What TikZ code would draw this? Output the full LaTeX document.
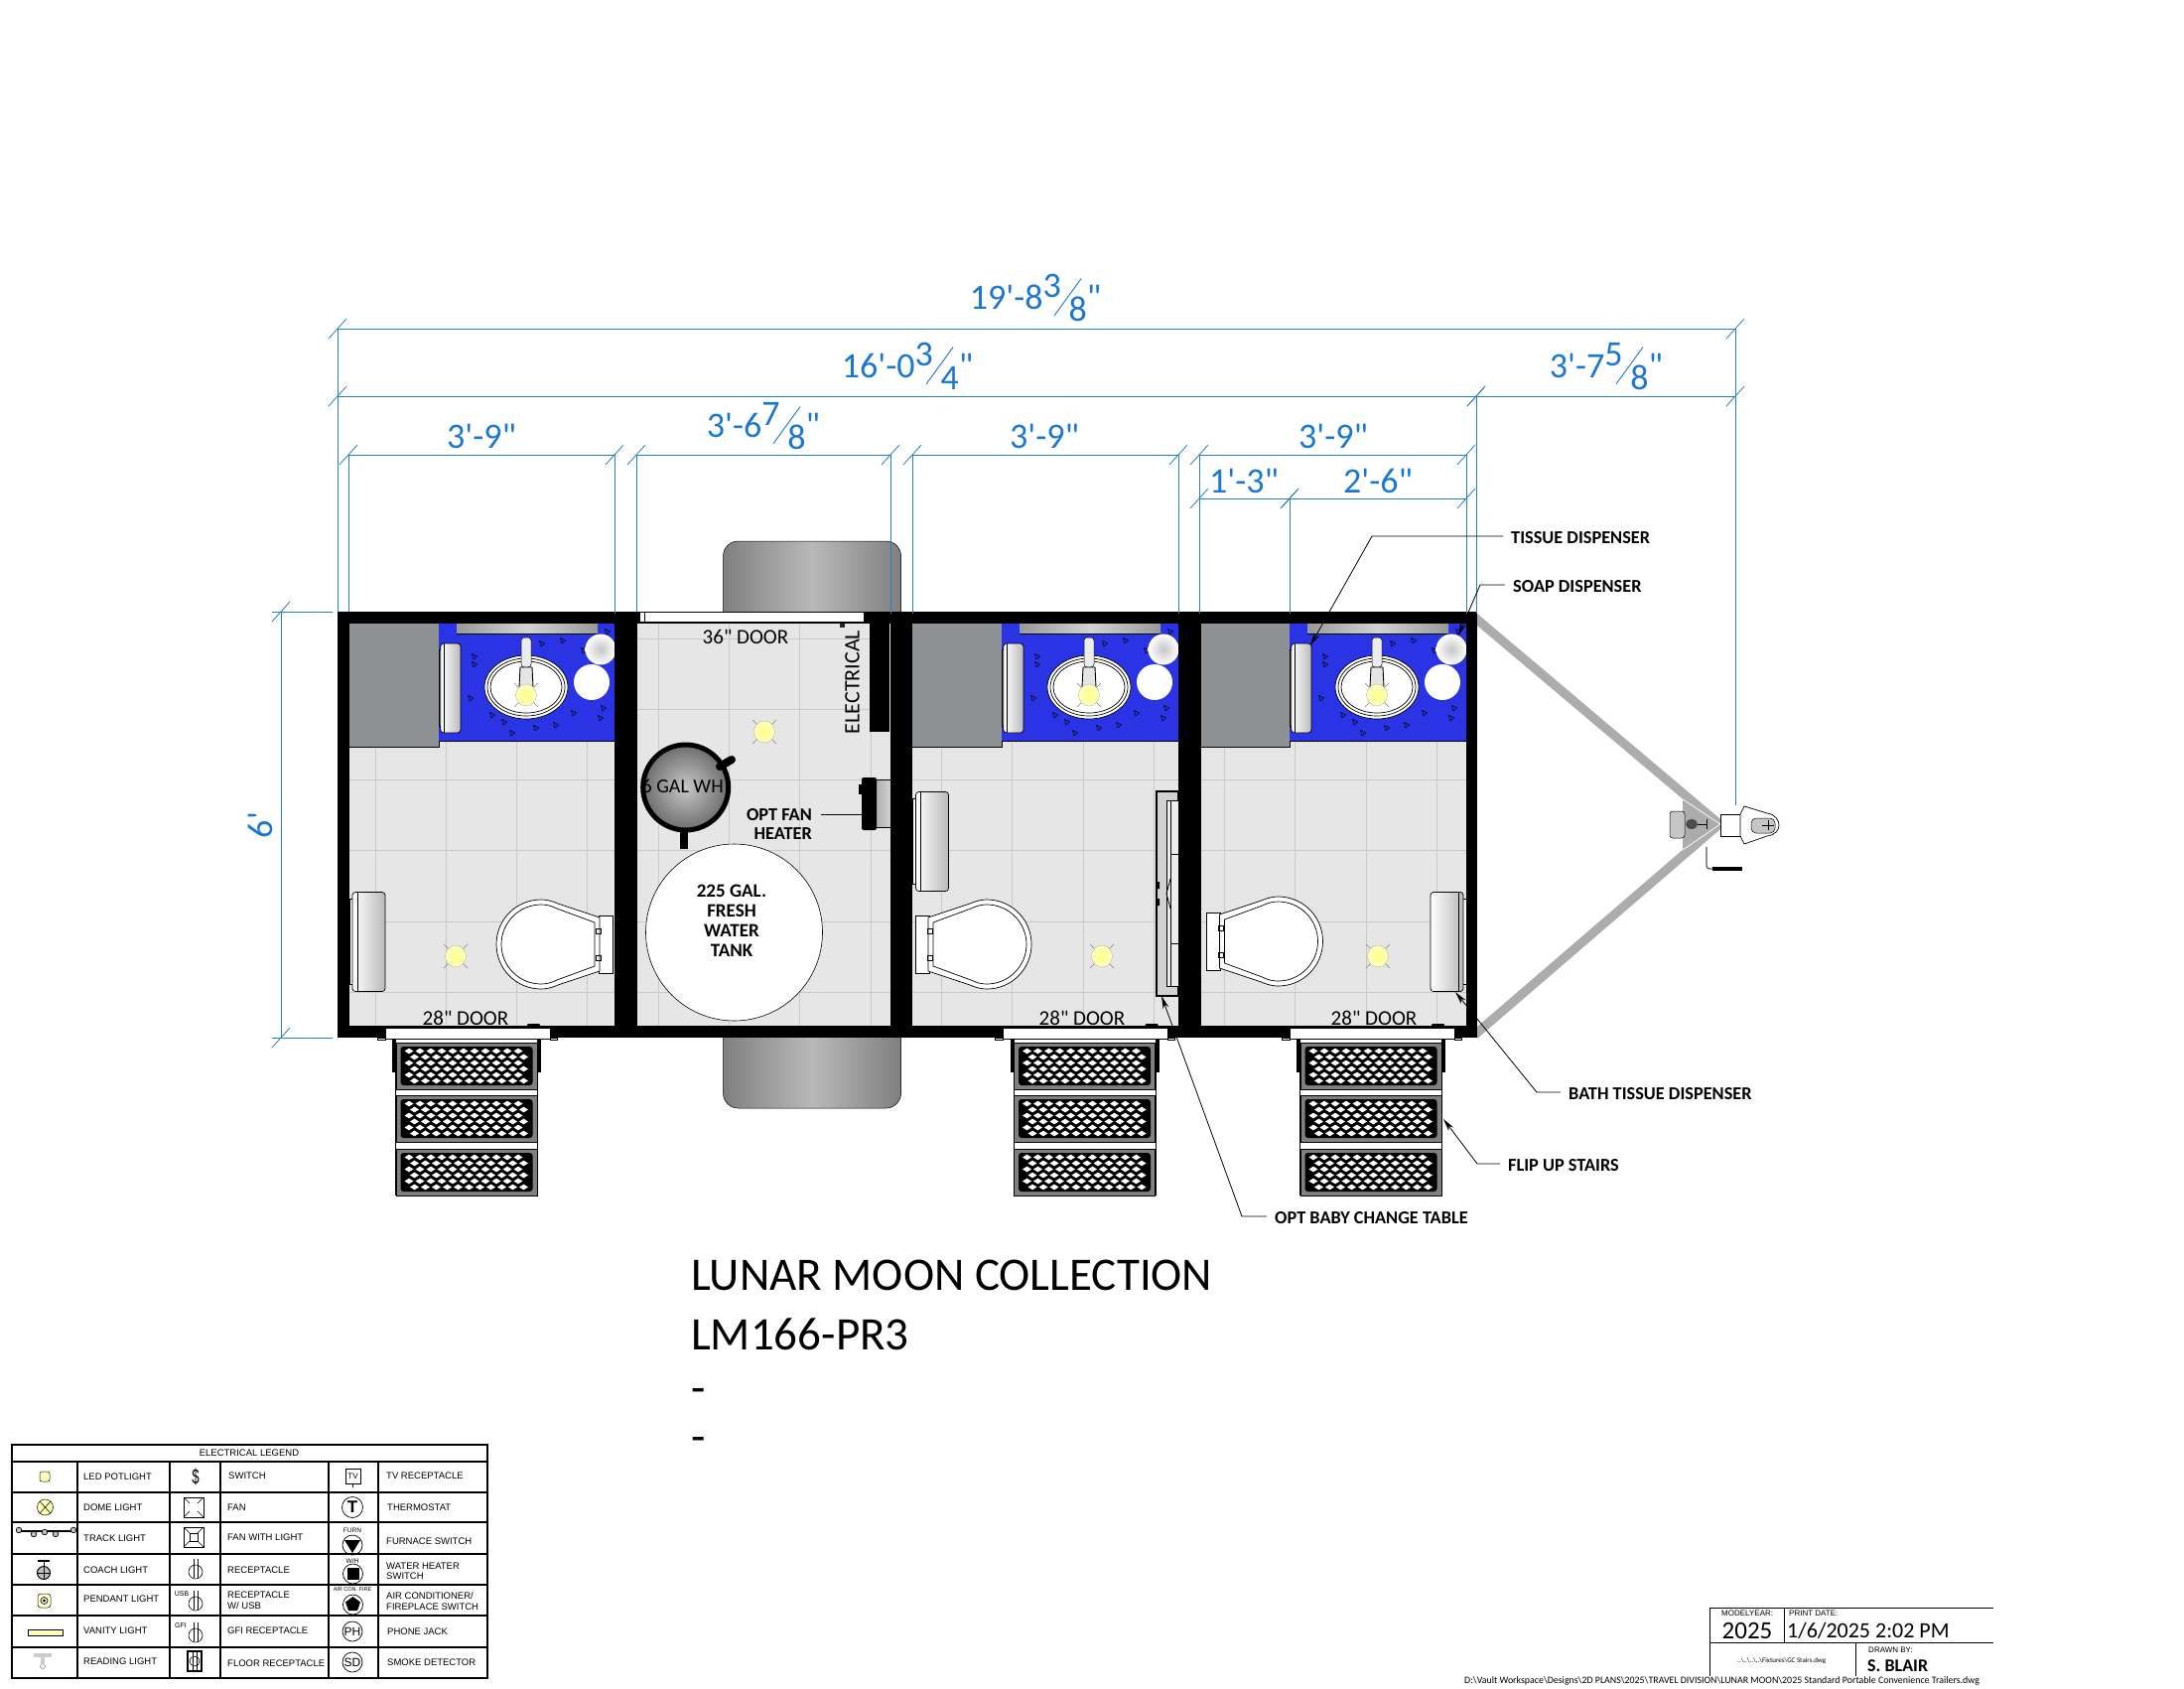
\documentclass[tikz,border=0pt]{standalone}
\usepackage{fontspec}
\usepackage{graphicx}
\setmainfont{Carlito}[Ligatures=TeXOff]
\newfontfamily\legendfamily{Liberation Sans}[Ligatures=TeXOff]
\usetikzlibrary{arrows.meta}
\definecolor{dimline}{HTML}{2A80B9}
\definecolor{dimtext}{HTML}{1B77D3}
\definecolor{counter}{HTML}{2A34E4}
\definecolor{cabinet}{HTML}{8F9295}
\definecolor{floortile}{HTML}{E6E6E6}
\definecolor{tileline}{HTML}{C9C9C9}
\definecolor{lampyellow}{HTML}{FFFF88}
\newcommand{\fsz}[1]{\fontsize{#1}{#1}\selectfont}
\newcommand{\slashfrac}[2]{\raisebox{12pt}{#1}\kern-7pt\raisebox{-7pt}{\rotatebox{54}{\rule{46pt}{0.9pt}}}\kern-13pt\raisebox{-12pt}{#2}}
\tikzset{
    dimlabel/.style={text=dimtext, font=\fsz{36}, anchor=base, inner sep=0pt},
    dimwire/.style={draw=dimline, line width=0.8pt},
    calllabel/.style={font=\fsz{18.3}\bfseries, anchor=west, inner sep=0pt},
    leader/.style={draw=black, line width=0.8pt, -{Stealth[length=13pt,width=6pt]}},
    doorlabel/.style={font=\fsz{21}, inner sep=0pt},
    tanklabel/.style={font=\fsz{19}\bfseries, inner sep=0pt},
    titletext/.style={font=\fsz{47}, anchor=west, inner sep=0pt},
    legendtext/.style={font=\fsz{9.5}\legendfamily, anchor=west, inner sep=0pt},
    legendtag/.style={font=\fsz{6.5}\legendfamily, inner sep=0pt},
    blocktext/.style={inner sep=0pt, anchor=west},
    fixture/.style={draw=black, line width=0.7pt, fill=white},
    lamp/.pic={
        \draw[gray, line width=0.5pt] (-12,-12) -- (12,12) (-12,12) -- (12,-12);
        \draw[draw=gray!70, line width=0.3pt, inner color=lampyellow, outer color=lampyellow!55] (0,0) ellipse [x radius=10.5, y radius=11];
    },
    dispenser/.pic={
        \draw[fixture] (0,-43) rectangle (5,43);
        \draw[draw=black, line width=0.7pt, rounded corners=3pt, left color=white, right color=gray!55] (3,-50) rectangle (36,50);
        \draw[line width=0.6pt] (8,-50) -- (8,50);
    },
    toilet/.pic={
        \draw[fixture] (0,-29) rectangle (14,29);
        \draw[fixture] (13,-27) -- (55,-41) .. controls (62,-44) and (67,-45) .. (72,-45) .. controls (97,-45) and (117,-25) .. (117,0) .. controls (117,25) and (97,45) .. (72,45) .. controls (67,45) and (62,44) .. (55,41) -- (13,27) -- cycle;
        \draw[fixture] (18,-22) -- (56,-36) .. controls (62,-39) and (67,-40) .. (72,-40) .. controls (94,-40) and (112,-22) .. (112,0) .. controls (112,22) and (94,40) .. (72,40) .. controls (67,40) and (62,39) .. (56,36) -- (18,22) -- cycle;
        \draw[line width=0.5pt] (12,-16) rectangle (17,-11) (12,11) rectangle (17,16);
    },
    vanity/.pic={
        % origin at the left end of the counter
        \fill[counter] (0,628) rectangle (178,746);
        \draw[line width=0.7pt] (0,746) -- (178,746);
        \shade[left color=gray!80, right color=gray!80, middle color=gray!35] (18,628) rectangle (160,638);
        \draw[line width=0.5pt] (18,638) -- (160,638);
        \foreach \dx/\dy in {36/661,36/669,32/703,54/720,66/727,74/738,98/733,118/730,136/718,166/713,163/723,104/648,125/645,170/636,146/655}
            \draw[line width=0.5pt] (\dx-2.5,\dy-2.5) -- (\dx+2.5,\dy) -- (\dx-1,\dy+3) -- cycle;
        \pic[xscale=0.61, yscale=0.9] at (0,693) {dispenser};
        \draw[fixture] (88,692) ellipse [x radius=42, y radius=32];
        \draw[fixture] (88,692) ellipse [x radius=39, y radius=29];
        \draw[fixture] (88,692) ellipse [x radius=36, y radius=26];
        \draw[draw=black, line width=0.5pt, rounded corners=3pt, fill=gray!15] (83,642) rectangle (93,672);
        \draw[draw=black, line width=0.9pt, fill=gray!20] (82,672) -- (94,672) -- (95,692) -- (81,692) -- cycle;
        \pic at (88,700) {lamp};
        \shade[inner color=gray!45, outer color=white] (163,654) circle (15.5pt);
        \fill[white] (154,687) circle (18pt);
    },
    entrydoor/.pic={
        \draw[fixture, line width=1pt] (-83,1035) rectangle (83,1046);
        \draw[fixture, line width=0.5pt] (-91,1045) rectangle (-83,1047);
        \draw[fixture, line width=0.5pt] (83,1045) rectangle (90,1047);
        \fill[rounded corners=1pt] (60,1031) rectangle (73,1035);
    },
    stairs/.pic={
        % origin at the door sill
        \fill (-75,0) rectangle (-71,34);
        \fill (71,0) rectangle (75,34);
        \foreach \yy in {4,57,111} {
            \draw[draw=black, line width=0.5pt, fill=gray] (-71,\yy) rectangle (71,\yy+47);
            \fill[rounded corners=3pt] (-66.5,\yy+4) rectangle (66.5,\yy+43);
            \foreach \row/\off in {-15/0,-9/5.5,-3/0,3/5.5,9/0,15/5.5}
                \foreach \col in {-58,-47,...,52}
                    \fill[white] ({\col+\off},{\yy+23.5+\row}) +(-4.5,0) -- +(0,-2.8) -- +(4.5,0) -- +(0,2.8) -- cycle;
        }
        \draw[line width=0.8pt] (-71.5,0) -- (-71.5,158) (71.5,0) -- (71.5,158);
    }
}

\begin{document}
\begin{tikzpicture}[x=1pt, y=-1pt]
\useasboundingbox (0,0) rectangle (2200,1700);
\fill[white] (0,0) rectangle (2200,1700);

% Axle and wheels
\draw[draw=black, line width=0.5pt, rounded corners=15pt, left color=gray, right color=gray, middle color=gray!55] (728.5,545) rectangle (907.5,1116);

% Tongue
\fill[gray!65] (1488,618) -- (1733,825) -- (1733,835) -- (1488,1046) -- (1488,1034) -- (1725,830) -- (1488,630) -- cycle;
\fill[gray!65] (1695,805) -- (1733,830) -- (1695,856) -- cycle;
\draw[white, line width=0.7pt] (1695,805) -- (1733,830) -- (1695,856);
\draw[draw=black, line width=0.5pt, rounded corners=3pt, fill=gray!45] (1682,817) rectangle (1697,844);
\fill[black!70] (1704,830) ellipse [x radius=6, y radius=5];
\draw[line width=0.7pt] (1710,830) -- (1719,830) (1719,825) -- (1719,835);
\draw[fixture] (1733,820) rectangle (1753,842);
\draw[fixture] (1753,820) -- (1757,812) -- (1780,819) .. controls (1788,820) and (1792,826) .. (1792,831) .. controls (1792,836) and (1788,841) .. (1780,842) -- (1757,850) -- (1753,842) -- cycle;
\draw[draw=black, line width=0.5pt, rounded corners=5pt, fill=gray!45] (1764,824) rectangle (1788,839);
\draw[line width=0.5pt] (1775,831) -- (1787,831) (1781,826) -- (1781,836);
\draw[line width=1.3pt, black!65, rounded corners=3pt] (1719,853) -- (1719,875) -- (1725,875);
\draw[line width=4pt] (1725,875) -- (1755,875);

% Floor tile grid
\fill[floortile] (340,616) rectangle (1488,1045);
\foreach \xx in {378,449.3,...,1450}
    \draw[tileline, line width=0.9pt] (\xx,616) -- (\xx,1045);
\foreach \yy in {643,714.3,...,1000}
    \draw[tileline, line width=0.9pt] (340,\yy) -- (1488,\yy);

% Cabinets
\foreach \xa/\xb in {352/442,919/1009,1210/1299}
    \fill[cabinet] (\xa,628) rectangle (\xb,752);
\draw[line width=0.5pt] (352,752) -- (442,752) -- (442,746) (919,752) -- (1009,752) -- (1009,746) (1210,752) -- (1299,752) -- (1299,746);

% Vanities
\pic at (442,0) {vanity};
\pic at (1009,0) {vanity};
\pic at (1299,0) {vanity};

% Walls
\fill (340,616) rectangle (1488,628);
\fill (340,1033) rectangle (1488,1045);
\fill (340,616) rectangle (352,1045);
\fill (1477,616) rectangle (1488,1045);
\foreach \xa/\xb in {619/642,897/919,1187/1210}
    \fill (\xa,616) rectangle (\xb,1045);

% Electrical closet
\fill (875.5,628) rectangle (896,737);
\fill[floortile] (896,628) rectangle (897,737);

% Top door
\draw[fixture, line width=1pt] (644,616) rectangle (870,626);
\draw[line width=0.5pt] (649,616) -- (649,626);
\fill[black!85] (846,628) rectangle (851,632);

% Water heater
\shade[inner color=black!22, outer color=black!58] (690.7,793) circle (44pt);
\node[font=\fsz{20}, inner sep=0pt] (heatertag) at (687.7,792) {6 GAL WH};
\draw[line width=5pt] (690.7,793) circle (43pt);
\draw[line width=8pt, line cap=round] (725,772) -- (737,765);
\draw[line width=8pt] (689,836) -- (689,855);

% Fresh water tank
\draw[draw=black, line width=0.6pt, fill=white] (739.5,939) circle (89pt);
\node[tanklabel] (tankA) at (737,897) {225 GAL.};
\node[tanklabel] (tankB) at (737,917) {FRESH};
\node[tanklabel] (tankC) at (737,937) {WATER};
\node[tanklabel] (tankD) at (737,957) {TANK};

% Fan heater
\draw[draw=black, line width=1pt, left color=gray!65, right color=gray!35] (882,785) rectangle (897,833);
\fill[rounded corners=2pt] (868,783) rectangle (883,836);
\fill (865,790) rectangle (868,800);

% Floor lamps
\pic at (459,963) {lamp};
\pic at (770,737) {lamp};
\pic at (1110,963) {lamp};
\pic at (1388,963) {lamp};

% Toilets
\pic[xscale=-1] at (617,951) {toilet};
\pic at (922,951) {toilet};
\pic at (1215.5,948) {toilet};

% Bath tissue dispensers
\pic at (352,948.5) {dispenser};
\pic at (919.5,847.5) {dispenser};
\pic[xscale=-1] at (1477,948.5) {dispenser};

% Baby change table
\draw[draw=black, line width=1.2pt, fill=gray!35] (1165,797) rectangle (1187,1003);
\draw[draw=black, line width=0.9pt, fill=gray!15] (1175,806) rectangle (1187,993);
\draw[line width=0.8pt] (1179,806) -- (1179,993);
\draw[line width=0.8pt] (1179,860) -- (1187,860) (1179,950) -- (1187,950);
\draw[line width=0.8pt] (1179,885) -- (1175,900) -- (1179,915);
\fill (1165,888) rectangle (1168,895) (1165,905) rectangle (1168,912);

% Entry doors and flip up stairs
\pic at (471,0) {entrydoor};
\pic at (1093.5,0) {entrydoor};
\pic at (1382,0) {entrydoor};
\pic at (470,1046) {stairs};
\pic at (1092.5,1046) {stairs};
\pic at (1381,1046) {stairs};

% Room labels
\node[doorlabel] (door36) at (751,641) {36" DOOR};
\node[doorlabel] (doorA) at (469,1025) {28" DOOR};
\node[doorlabel] (doorB) at (1090,1025) {28" DOOR};
\node[doorlabel] (doorC) at (1384,1025) {28" DOOR};
\node[font=\fsz{22}, inner sep=0pt, rotate=90] (electrical) at (858.5,687) {ELECTRICAL};

% Fan heater callout
\node[font=\fsz{18.3}\bfseries, inner sep=0pt, anchor=east] (fanA) at (818,821) {OPT FAN};
\node[font=\fsz{18.3}\bfseries, inner sep=0pt, anchor=east] (fanB) at (818,840) {HEATER};
\coordinate (fantip) at (868,820);
\draw[line width=0.8pt] (fanA.east) ++(9,-1) -- (fantip);

% Dimension lines
\foreach \xa/\xb/\yy in {340/1748/331,340/1487/399,1487/1748/399,351/619/458,641/897/458,919/1187/458,1208/1477/458,1208/1299/502,1299/1477/502} {
    \draw[dimwire] (\xa,\yy) -- (\xb,\yy);
    \draw[dimwire] (\xa-9,\yy+10) -- (\xa+9,\yy-10);
    \draw[dimwire] (\xb-9,\yy+10) -- (\xb+9,\yy-10);
}
\foreach \xx/\ya/\yb in {340/331/616,351/458/616,619/458/618,641/458/616,897/458/618,919/458/618,1187/458/618,1208/458/618,1299/502/618,1477/458/618,1487/399/618,1748/331/811}
    \draw[dimwire] (\xx,\ya) -- (\xx,\yb);
\draw[dimwire] (283,616) -- (283,1045);
\draw[dimwire] (274,616) -- (335,616);
\draw[dimwire] (274,1045) -- (335,1045);
\draw[dimwire] (274,626) -- (292,606);
\draw[dimwire] (274,1055) -- (292,1035);

\node[dimlabel] (dimall) at (1043,311) {19'-8\slashfrac{3}{8}"};
\node[dimlabel] (dimbox) at (914,380) {16'-0\slashfrac{3}{4}"};
\node[dimlabel] (dimtongue) at (1618,380) {3'-7\slashfrac{5}{8}"};
\node[dimlabel] (dimroomA) at (485,451) {3'-9"};
\node[dimlabel] (dimroomB) at (769,440) {3'-6\slashfrac{7}{8}"};
\node[dimlabel] (dimroomC) at (1052,451) {3'-9"};
\node[dimlabel] (dimroomD) at (1343,451) {3'-9"};
\node[dimlabel] (dimsubA) at (1253,496) {1'-3"};
\node[dimlabel] (dimsubB) at (1388,496) {2'-6"};
\node[text=dimtext, font=\fsz{36}, inner sep=0pt, rotate=90] (dimwidth) at (262,831) {6'};

% Callouts
\node[calllabel] (tissue) at (1522,542) {TISSUE DISPENSER};
\node[calllabel] (soap) at (1524,591) {SOAP DISPENSER};
\node[calllabel] (bath) at (1580,1102) {BATH TISSUE DISPENSER};
\node[calllabel] (flip) at (1519,1174) {FLIP UP STAIRS};
\node[calllabel] (baby) at (1284,1227) {OPT BABY CHANGE TABLE};
\coordinate (tissuebend) at (1382,540);
\coordinate (tissuetip) at (1320,650);
\coordinate (soapbend) at (1491,589);
\coordinate (soaptip) at (1469,640);
\coordinate (bathbend) at (1548,1100);
\coordinate (bathtip) at (1466,999);
\coordinate (flipbend) at (1488,1172);
\coordinate (fliptip) at (1454,1127);
\coordinate (babybend) at (1251,1225);
\coordinate (babytip) at (1170,1003);
\draw[leader] (tissue.west) ++(-8,-2) -- (tissuebend) -- (tissuetip);
\draw[leader] (soap.west) ++(-8,-2) -- (soapbend) -- (soaptip);
\draw[leader] (bath.west) ++(-8,-2) -- (bathbend) -- (bathtip);
\draw[leader] (flip.west) ++(-8,-2) -- (flipbend) -- (fliptip);
\draw[leader] (baby.west) ++(-8,-2) -- (babybend) -- (babytip);

% Title
\node[titletext] (titleA) at (696,1284) {LUNAR MOON COLLECTION};
\node[titletext] (titleB) at (696,1344) {LM166-PR3};
\node[titletext] (titleC) at (696,1406) {-};
\node[titletext] (titleD) at (696,1455) {-};

% Legend grid
\draw[line width=1.3pt] (12,1455) rectangle (491,1690);
\foreach \yy in {1472,1503,1533,1565,1596,1627,1659}
    \draw[line width=1.3pt] (12,\yy) -- (491,\yy);
\foreach \xx in {78,171,222,331,381}
    \draw[line width=1.3pt] (\xx,1472) -- (\xx,1690);
\node[font=\fsz{9.5}\legendfamily, inner sep=0pt] (legendhead) at (251,1463) {ELECTRICAL LEGEND};

% Legend texts
\foreach \xx/\yy/\txt [count=\n] in {84/1487/LED POTLIGHT,84/1518/DOME LIGHT,84/1549/TRACK LIGHT,84/1581/COACH LIGHT,84/1610/PENDANT LIGHT,84/1642/VANITY LIGHT,84/1673/READING LIGHT,
    230/1486/SWITCH,229/1518/FAN,229/1548/FAN WITH LIGHT,229/1581/RECEPTACLE,229/1606/RECEPTACLE,229/1617/{W/ USB},229/1642/GFI RECEPTACLE,229/1675/FLOOR RECEPTACLE,
    389/1486/TV RECEPTACLE,390/1518/THERMOSTAT,389/1552/FURNACE SWITCH,389/1577/WATER HEATER,389/1587/SWITCH,389/1607/{AIR CONDITIONER/},389/1618/FIREPLACE SWITCH,390/1643/PHONE JACK,390/1674/SMOKE DETECTOR}
    \node[legendtext] (legend\n) at (\xx,\yy) {\txt};

% Legend symbols, lights
\draw[draw=black, line width=0.5pt, rounded corners=2pt, fill=lampyellow!60] (40,1482) rectangle (50,1492);
\draw[draw=black, line width=0.5pt, fill=lampyellow!60] (45.5,1518) circle (8pt);
\draw[line width=0.5pt] (40,1512) -- (51,1524) (40,1524) -- (51,1512);
\draw[line width=1.2pt] (19,1542) -- (74,1542);
\foreach \xx/\yy in {19/1541,74/1541,34/1545,45/1543,56/1545}
    \draw[draw=black, line width=0.7pt, fill=gray!50] (\xx,\yy) circle (2.8pt);
\draw[line width=1.3pt] (38,1572) -- (50,1572);
\draw[line width=1pt] (44,1572) -- (44,1577);
\draw[draw=black, line width=1pt, fill=gray!50] (44,1584) circle (6.5pt);
\draw[line width=0.6pt] (38,1584) -- (50,1584) (44,1578) -- (44,1590);
\draw[draw=black, line width=0.5pt, rounded corners=3pt, fill=lampyellow!50] (38,1605) rectangle (51,1619);
\draw[line width=0.7pt, fill=white] (44.5,1612) circle (3.5pt);
\fill (44.5,1612) circle (1.6pt);
\draw[draw=black, line width=0.7pt, fill=lampyellow!60] (28,1641) rectangle (63,1647);
\fill[gray!40] (34,1665) rectangle (52,1669);
\fill[gray!40] (41,1669) rectangle (45,1675);
\draw[gray, line width=0.5pt] (43,1678) circle (2.5pt);

% Legend symbols, switches and fans
\node[font=\fsz{19}\legendfamily, inner sep=0pt] (dollar) at (197,1487) {\scalebox{0.7}[1.1]{\$}};
\foreach \yy in {1508,1538} {
    \draw[line width=0.7pt] (185,\yy) rectangle (205,\yy+20);
}
\draw[line width=0.5pt] (185,1508) -- (191,1514) (205,1508) -- (199,1514) (185,1528) -- (191,1522) (205,1528) -- (199,1522);
\draw[line width=0.7pt] (191,1544) rectangle (199,1552);
\draw[line width=0.5pt] (185,1538) -- (191,1544) (205,1538) -- (199,1544) (185,1558) -- (191,1552) (205,1558) -- (199,1552);
\foreach \yy in {1583,1615,1647} {
    \draw[line width=0.6pt] (197,\yy) circle (7pt);
    \draw[line width=0.6pt] (195,\yy-13) -- (195,\yy+6) (199,\yy-13) -- (199,\yy+6);
}
\node[legendtag, font=\fsz{7}\legendfamily] (usbtag) at (183,1605) {USB};
\node[legendtag, font=\fsz{7}\legendfamily] (gfitag) at (182,1637) {GFI};
\draw[line width=1.3pt] (189,1663) rectangle (203,1683);
\draw[line width=0.6pt] (196,1673) circle (5pt);
\draw[line width=0.6pt] (194,1663) -- (194,1683) (198,1663) -- (198,1683);

% Legend symbols, wall controls
\draw[line width=0.7pt] (348,1479) rectangle (363,1494) (355.5,1494) -- (355.5,1498);
\node[font=\fsz{8}\legendfamily, inner sep=0pt] (tvtag) at (355.5,1486.5) {TV};
\draw[line width=0.7pt] (355,1518) circle (10.5pt);
\node[font=\fsz{17}\legendfamily\bfseries, inner sep=0pt] (ttag) at (355,1518) {T};
\node[legendtag] (furntag) at (355,1541) {FURN};
\draw[line width=0.7pt] (355,1556) circle (10pt);
\fill (347,1551) -- (363,1551) -- (355,1564) -- cycle;
\node[legendtag] (wtag) at (355,1572) {W/H};
\draw[line width=0.7pt] (355.5,1585) circle (10pt);
\fill (349.5,1579) rectangle (361.5,1591);
\node[legendtag, font=\fsz{5.5}\legendfamily] (airtag) at (355,1601) {AIR CON. FIRE};
\draw[line width=0.7pt] (355.5,1616) circle (10pt);
\fill (355.5,1608) -- (363,1613.5) -- (360,1622) -- (351,1622) -- (348,1613.5) -- cycle;
\draw[line width=0.7pt] (355,1643) circle (10pt);
\node[font=\fsz{12}\legendfamily, inner sep=0pt] (phtag) at (355,1643) {PH};
\draw[line width=0.7pt] (355,1674) circle (10pt);
\node[font=\fsz{12}\legendfamily, inner sep=0pt] (sdtag) at (355,1674) {SD};

% Title block
\draw[line width=0.8pt] (2008,1619) -- (1722,1619) -- (1722,1688);
\draw[line width=0.8pt] (1722,1654) -- (2008,1654);
\draw[line width=0.8pt] (1797.5,1619) -- (1797.5,1654);
\draw[line width=0.8pt] (1869,1654) -- (1869,1688);
\node[blocktext, font=\fsz{8}\legendfamily] (modelhead) at (1734,1625) {MODELYEAR:};
\node[font=\fsz{25}, inner sep=0pt] (modelyear) at (1760,1642) {2025};
\node[blocktext, font=\fsz{8}\legendfamily] (printhead) at (1802,1625) {PRINT DATE:};
\node[blocktext, font=\fsz{22}] (printdate) at (1800,1642) {1/6/2025 2:02 PM};
\node[blocktext, font=\fsz{8}\legendfamily] (drawnhead) at (1882,1662) {DRAWN BY:};
\node[blocktext, font=\fsz{18}\bfseries] (drawnname) at (1881,1678) {S. BLAIR};
\node[blocktext, font=\fsz{7}] (blocktiny) at (1750,1673) {..\textbackslash..\textbackslash..\textbackslash..\textbackslash Fixtures\textbackslash GC Stairs.dwg};
\node[blocktext, font=\fsz{9.9}] (filepath) at (1475,1693) {D:\textbackslash Vault Workspace\textbackslash Designs\textbackslash 2D PLANS\textbackslash 2025\textbackslash TRAVEL DIVISION\textbackslash LUNAR MOON\textbackslash 2025 Standard Portable Convenience Trailers.dwg};

\end{tikzpicture}
\end{document}
